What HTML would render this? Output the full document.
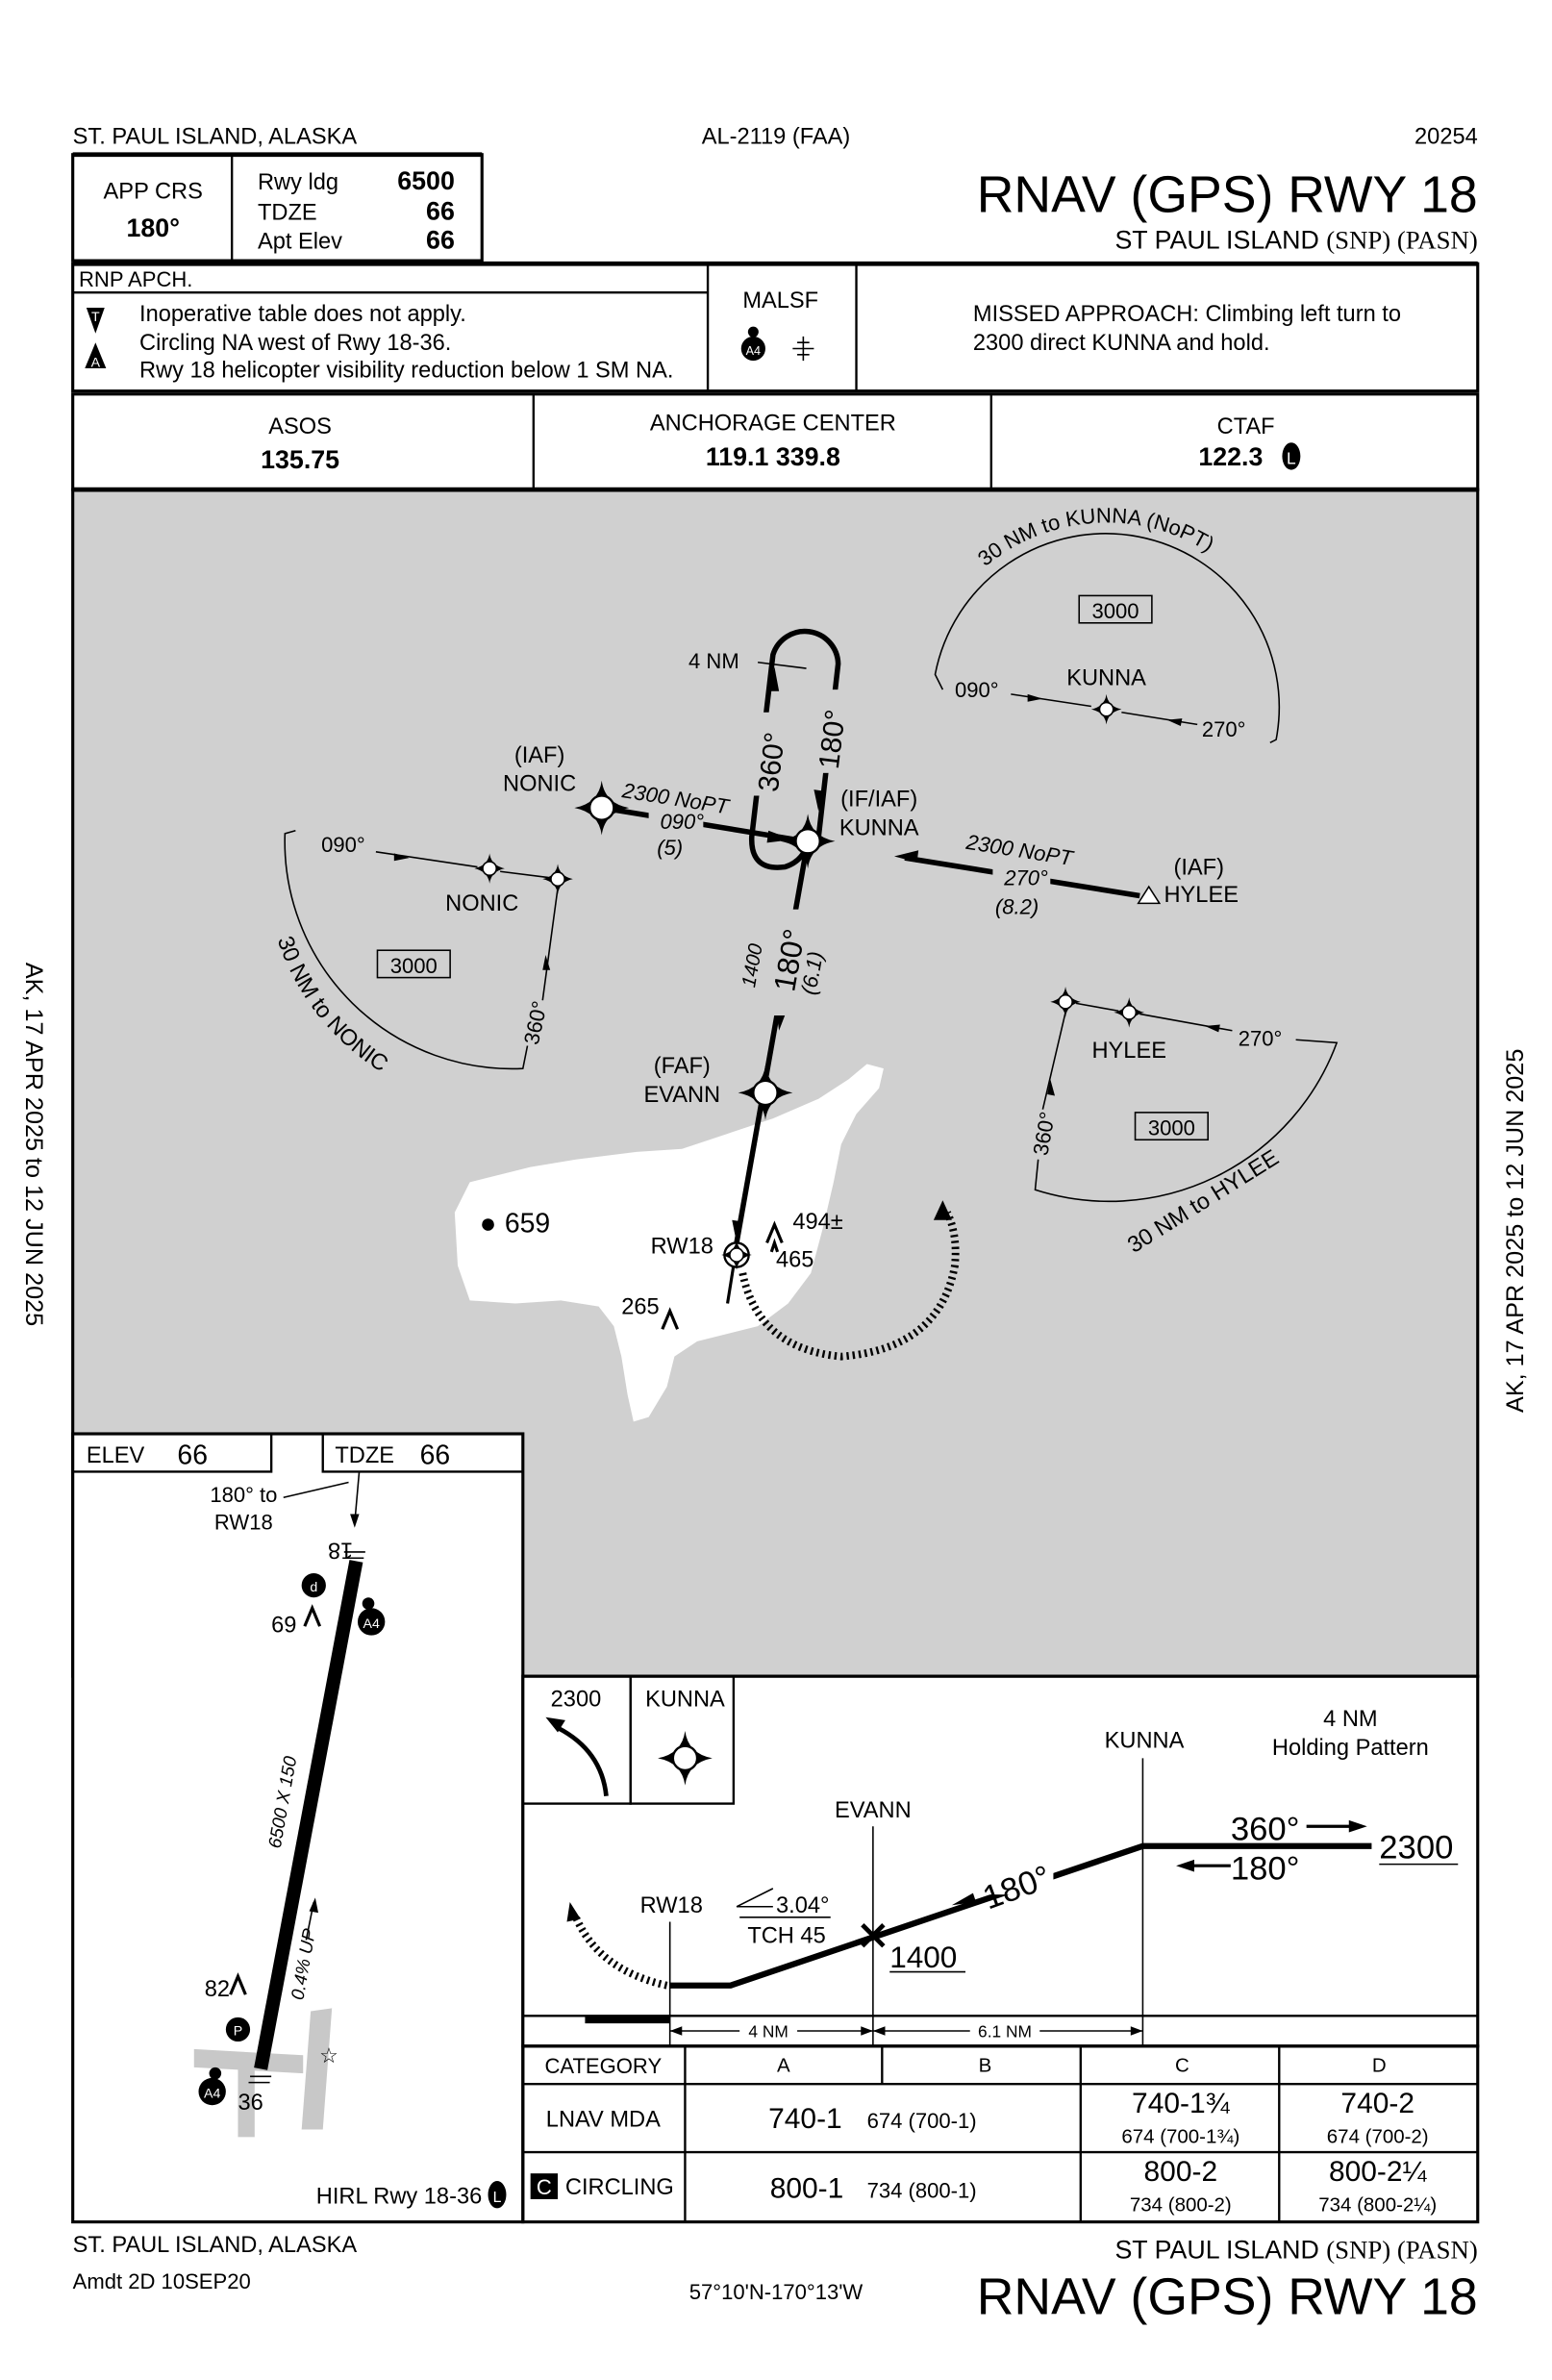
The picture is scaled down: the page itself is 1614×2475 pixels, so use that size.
<!DOCTYPE html>
<html><head><meta charset="utf-8"><style>
html,body{margin:0;padding:0;background:#fff}
svg{display:block}
text{font-family:"Liberation Sans",sans-serif;fill:#000}
</style></head><body>
<svg width="1614" height="2475" viewBox="0 0 1024 1570.3" xmlns="http://www.w3.org/2000/svg">
<defs>
<g id="fix">
<path d="M0,-18 Q2,-3 18,0 Q2,3 0,18 Q-2,3 -18,0 Q-2,-3 0,-18Z" fill="#000"/>
<circle r="8" fill="#fff" stroke="#000" stroke-width="1.5"/>
</g>
<g id="sfix">
<path d="M0,-10 Q1,-2 10,0 Q1,2 0,10 Q-1,2 -10,0 Q-1,-2 0,-10Z" fill="#000"/>
<circle r="4.5" fill="#fff" stroke="#000" stroke-width="1"/>
</g>
<path id="arcK" d="M 650 374 A 125 125 0 0 1 840 410"/>
<path id="arcN" d="M 183 620 A 165 165 0 0 0 300 728"/>
</defs>

<!-- header -->
<text x="48" y="95" font-size="15">ST. PAUL ISLAND, ALASKA</text>
<text x="512" y="95" font-size="15" text-anchor="middle">AL-2119 (FAA)</text>
<text x="975" y="95" font-size="15" text-anchor="end">20254</text>
<rect x="48" y="102" width="270" height="70" fill="none" stroke="#000" stroke-width="2"/>
<line x1="48" y1="102" x2="318" y2="102" stroke="#000" stroke-width="3"/>
<line x1="153" y1="102" x2="153" y2="172" stroke="#000" stroke-width="1.5"/>
<text x="101" y="131" font-size="15" text-anchor="middle">APP CRS</text>
<text x="101" y="156" font-size="17" font-weight="bold" text-anchor="middle">180°</text>
<text x="170" y="125" font-size="15">Rwy ldg</text>
<text x="170" y="145" font-size="15">TDZE</text>
<text x="170" y="164" font-size="15">Apt Elev</text>
<text x="300" y="125" font-size="17" font-weight="bold" text-anchor="end">6500</text>
<text x="300" y="145" font-size="17" font-weight="bold" text-anchor="end">66</text>
<text x="300" y="164" font-size="17" font-weight="bold" text-anchor="end">66</text>
<text x="975" y="140" font-size="34" text-anchor="end">RNAV (GPS) RWY 18</text>
<text x="975" y="164" font-size="17" text-anchor="end">ST PAUL ISLAND <tspan font-family="Liberation Serif">(SNP) (PASN)</tspan></text>

<!-- notes -->
<rect x="48" y="174" width="927" height="84" fill="none" stroke="#000" stroke-width="2"/>
<line x1="48" y1="174" x2="975" y2="174" stroke="#000" stroke-width="3"/>
<line x1="48" y1="193" x2="467" y2="193" stroke="#000" stroke-width="1.5"/>
<line x1="467" y1="174" x2="467" y2="258" stroke="#000" stroke-width="1.5"/>
<line x1="565" y1="174" x2="565" y2="258" stroke="#000" stroke-width="1.5"/>
<text x="52" y="189" font-size="14">RNP APCH.</text>
<path d="M57,203 h12 l-6,17z" fill="#000"/><text x="63" y="212" font-size="9" text-anchor="middle" style="fill:#fff">T</text>
<path d="M63,226 l7,17 h-14z" fill="#000"/><text x="63" y="242" font-size="9" text-anchor="middle" style="fill:#fff">A</text>
<text x="92" y="212" font-size="15">Inoperative table does not apply.</text>
<text x="92" y="231" font-size="15">Circling NA west of Rwy 18-36.</text>
<text x="92" y="249" font-size="15">Rwy 18 helicopter visibility reduction below 1 SM NA.</text>
<text x="515" y="203" font-size="15" text-anchor="middle">MALSF</text>
<circle cx="497" cy="230" r="8" fill="#000"/><circle cx="497" cy="219" r="3.5" fill="#000"/>
<text x="497" y="234" font-size="8" text-anchor="middle" style="fill:#fff">A4</text>
<path d="M530,222 v16 M523,230 h14 M526,226 h8 M526,234 h8" stroke="#000" stroke-width="1"/>
<text x="642" y="212" font-size="15">MISSED APPROACH: Climbing left turn to</text>
<text x="642" y="231" font-size="15">2300 direct KUNNA and hold.</text>

<!-- freq -->
<rect x="48" y="260" width="927" height="63" fill="none" stroke="#000" stroke-width="2"/>
<line x1="352" y1="260" x2="352" y2="323" stroke="#000" stroke-width="1.5"/>
<line x1="654" y1="260" x2="654" y2="323" stroke="#000" stroke-width="1.5"/>
<text x="198" y="286" font-size="15" text-anchor="middle">ASOS</text>
<text x="198" y="309" font-size="17" font-weight="bold" text-anchor="middle">135.75</text>
<text x="510" y="284" font-size="15" text-anchor="middle">ANCHORAGE CENTER</text>
<text x="510" y="307" font-size="17" font-weight="bold" text-anchor="middle">119.1  339.8</text>
<text x="822" y="286" font-size="15" text-anchor="middle">CTAF</text>
<text x="812" y="307" font-size="17" font-weight="bold" text-anchor="middle">122.3</text>
<ellipse cx="852" cy="301" rx="6" ry="9" fill="#000"/><text x="852" y="306" font-size="11" text-anchor="middle" style="fill:#fff">L</text>

<!-- plan view -->
<rect x="48" y="323" width="927" height="783" fill="#d0d0d0" stroke="#000" stroke-width="2"/>
<line x1="48" y1="323" x2="975" y2="323" stroke="#000" stroke-width="3"/>
<!-- island -->
<path d="M300,800 L310,780 L350,770 L380,765 L420,760 L450,758 L480,748 L510,738 L540,725 L560,712 L572,702 L583,705 L580,718 L565,735 L555,755 L550,780 L543,810 L535,840 L520,860 L500,875 L480,880 L460,885 L445,895 L440,915 L428,935 L418,938 L414,920 L410,895 L405,875 L395,862 L370,858 L340,860 L310,858 L302,835 Z" fill="#fff"/>
<!-- KUNNA MSA -->
<path d="M622,455 L617,445 A 112 112 0 0 1 842 488 L838,490" fill="none" stroke="#000" stroke-width="1"/>
<text font-size="14"><textPath href="#arcK">30 NM to KUNNA (NoPT)</textPath></text>
<rect x="712" y="393" width="48" height="18" fill="none" stroke="#000"/><text x="736" y="408" font-size="14" text-anchor="middle">3000</text>
<text x="730" y="452" font-size="15" text-anchor="middle">KUNNA</text>
<text x="630" y="460" font-size="14">090°</text>
<line x1="667" y1="458" x2="720" y2="466" stroke="#000"/><path d="M688,461 l-10,-3 l0,5z" fill="#000"/>
<line x1="740" y1="470" x2="790" y2="478" stroke="#000"/><path d="M770,475 l10,-1 l-1,5z" fill="#000"/>
<text x="793" y="486" font-size="14">270°</text>
<use href="#sfix" x="730" y="468"/>
<!-- NONIC MSA -->
<path d="M195,548 L188,550 A 150 150 0 0 0 345 705 L348,690" fill="none" stroke="#000" stroke-width="1"/>
<text font-size="15"><textPath href="#arcN">30 NM to NONIC</textPath></text>
<text x="212" y="562" font-size="14">090°</text>
<line x1="248" y1="562" x2="315" y2="572" stroke="#000"/><path d="M270,566 l-10,-3 l0,5z" fill="#000"/>
<line x1="330" y1="575" x2="362" y2="579" stroke="#000"/>
<use href="#sfix" x="323" y="573"/><use href="#sfix" x="368" y="580"/>
<line x1="368" y1="586" x2="358" y2="660" stroke="#000"/><path d="M360,630 l-2,10 l5,0z" fill="#000"/>
<text transform="translate(355,690) rotate(-78)" font-size="14">360°</text>
<text x="318" y="601" font-size="15" text-anchor="middle">NONIC</text>
<rect x="249" y="627" width="48" height="18" fill="none" stroke="#000"/><text x="273" y="642" font-size="14" text-anchor="middle">3000</text>
<!-- HYLEE MSA -->
<use href="#sfix" x="703" y="661"/><use href="#sfix" x="745" y="668"/>
<line x1="710" y1="662" x2="738" y2="667" stroke="#000"/>
<line x1="752" y1="669" x2="813" y2="680" stroke="#000"/><path d="M795,677 l10,-1 l-1,5z" fill="#000"/>
<text x="817" y="690" font-size="14">270°</text>
<path d="M855,686 L882,688 A 160 160 0 0 1 683 785 L685,765" fill="none" stroke="#000" stroke-width="1"/>
<line x1="703" y1="668" x2="688" y2="732" stroke="#000"/><path d="M693,712 l-2,10 l5,1z" fill="#000"/>
<text transform="translate(691,763) rotate(-80)" font-size="14">360°</text>
<text x="745" y="698" font-size="15" text-anchor="middle">HYLEE</text>
<rect x="749" y="734" width="48" height="18" fill="none" stroke="#000"/><text x="773" y="749" font-size="14" text-anchor="middle">3000</text>
<text transform="translate(748,827) rotate(-32)" font-size="15">30 NM to HYLEE</text>
<!-- holding -->
<path d="M540,553 L553,438 A 22 22 0 0 0 510 432 L496,552 Q495,575 518,572 Q530,568 533,556" fill="none" stroke="#000" stroke-width="3.5"/>
<path d="M511,440 l-4,16 l7,0z" fill="#000"/><path d="M540,535 l-3,-14 l7,1z" fill="#000"/>
<line x1="500" y1="437" x2="532" y2="441" stroke="#000"/>
<text x="471" y="441" font-size="14" text-anchor="middle">4 NM</text>
<rect x="495" y="470" width="22" height="55" fill="#d0d0d0"/><rect x="537" y="455" width="22" height="55" fill="#d0d0d0"/>
<text transform="translate(513,523) rotate(-83)" font-size="19">360°</text>
<text transform="translate(553,508) rotate(-83)" font-size="19">180°</text>
<!-- NONIC to KUNNA -->
<line x1="397" y1="533" x2="525" y2="554" stroke="#000" stroke-width="3.5"/><path d="M523,554 l-16,-6 l-1,8z" fill="#000"/>
<rect x="428" y="533" width="36" height="14" fill="#d0d0d0"/>
<use href="#fix" x="397" y="533"/>
<text transform="translate(410,526) rotate(9)" font-size="14" font-style="italic">2300 NoPT</text>
<text x="450" y="547" font-size="14" font-style="italic" text-anchor="middle">090°</text>
<text x="442" y="564" font-size="14" font-style="italic" text-anchor="middle">(5)</text>
<text x="356" y="503" font-size="15" text-anchor="middle">(IAF)</text>
<text x="356" y="522" font-size="15" text-anchor="middle">NONIC</text>
<!-- HYLEE to KUNNA -->
<line x1="597" y1="566" x2="752" y2="591" stroke="#000" stroke-width="3.5"/><path d="M590,565 l16,-4 l-1,8z" fill="#000"/>
<rect x="655" y="570" width="38" height="16" fill="#d0d0d0"/>
<path d="M751,596 l7,-11 l7,11z" fill="#fff" stroke="#000"/>
<text transform="translate(637,560) rotate(9)" font-size="14" font-style="italic">2300 NoPT</text>
<text x="677" y="584" font-size="14" font-style="italic" text-anchor="middle">270°</text>
<text x="671" y="603" font-size="14" font-style="italic" text-anchor="middle">(8.2)</text>
<text x="791" y="577" font-size="15" text-anchor="middle">(IAF)</text>
<text x="768" y="595" font-size="15">HYLEE</text>
<!-- final -->
<line x1="533" y1="555" x2="486" y2="820" stroke="#000" stroke-width="3.5"/>
<path d="M486,820 l-3,-15 l7,1z" fill="#000"/><path d="M514,680 l-2,-14 l7,1z" fill="#000"/>
<rect x="508" y="600" width="30" height="70" fill="#d0d0d0"/>
<text transform="translate(498,652) rotate(-80)" font-size="13" font-style="italic">1400</text>
<text transform="translate(524,655) rotate(-80)" font-size="20">180°</text>
<text transform="translate(538,657) rotate(-80)" font-size="14" font-style="italic">(6.1)</text>
<use href="#fix" x="533" y="555"/>
<text x="580" y="532" font-size="15" text-anchor="middle">(IF/IAF)</text>
<text x="580" y="551" font-size="15" text-anchor="middle">KUNNA</text>
<use href="#fix" x="505" y="721"/>
<text x="450" y="708" font-size="15" text-anchor="middle">(FAF)</text>
<text x="450" y="727" font-size="15" text-anchor="middle">EVANN</text>
<circle cx="486" cy="828" r="8" fill="#fff" stroke="#000" stroke-width="1.5"/><use href="#sfix" x="486" y="828"/>
<line x1="484" y1="835" x2="480" y2="860" stroke="#000" stroke-width="2"/>
<text x="450" y="827" font-size="15" text-anchor="middle">RW18</text>
<!-- missed dotted -->
<path d="M490,840 Q500,890 555,895 Q620,890 630,835 Q632,815 625,800" fill="none" stroke="#000" stroke-width="5" stroke-dasharray="1.5 2.5"/>
<path d="M622,792 l-6,13 l12,0z" fill="#000"/>
<path d="M506,820 l5,-12 l5,12 M509,826 l2,-6 l2,6" fill="none" stroke="#000" stroke-width="2"/>
<text x="523" y="811" font-size="15">494±</text>
<text x="512" y="836" font-size="15">465</text>
<text x="410" y="867" font-size="15">265</text>
<path d="M437,877 l5,-12 l5,12" fill="none" stroke="#000" stroke-width="2"/>
<circle cx="322" cy="808" r="4" fill="#000"/><text x="333" y="813" font-size="18">659</text>

<!-- airport sketch -->
<rect x="48" y="946" width="297" height="520" fill="#fff" stroke="#000" stroke-width="2"/>
<rect x="48" y="946" width="131" height="25" fill="none" stroke="#000" stroke-width="1.5"/>
<rect x="213" y="946" width="132" height="25" fill="none" stroke="#000" stroke-width="1.5"/>
<text x="57" y="965" font-size="15">ELEV</text><text x="117" y="966" font-size="18">66</text>
<text x="221" y="965" font-size="15">TDZE</text><text x="277" y="966" font-size="18">66</text>
<text x="183" y="991" font-size="14" text-anchor="end">180° to</text>
<text x="180" y="1009" font-size="14" text-anchor="end">RW18</text>
<line x1="187" y1="988" x2="230" y2="978" stroke="#000"/>
<line x1="237" y1="971" x2="234" y2="1005" stroke="#000"/><path d="M234,1008 l-3,-9 l6,0z" fill="#000"/>
<path d="M205,1327 l14,-2 l-6,80 l-14,0z M128,1352 l72,4 l0,12 l-72,-4z" fill="#c8c8c8"/>
<rect x="157" y="1365" width="11" height="45" fill="#c8c8c8"/>
<line x1="235" y1="1030" x2="172" y2="1365" stroke="#000" stroke-width="9"/>
<text transform="translate(233,1018) rotate(180)" font-size="15">18</text>
<path d="M226,1028 h14 M227,1024 h14 M165,1370 h14 M164,1374 h14" stroke="#000"/>
<circle cx="207" cy="1046" r="8" fill="#000"/><text x="207" y="1050" font-size="9" text-anchor="middle" style="fill:#fff">d</text>
<text x="179" y="1077" font-size="15">69</text><path d="M201,1073 l5,-12 l5,12" fill="none" stroke="#000" stroke-width="2"/>
<circle cx="245" cy="1070" r="9" fill="#000"/><circle cx="243" cy="1058" r="4" fill="#000"/>
<text x="245" y="1074" font-size="9" text-anchor="middle" style="fill:#fff">A4</text>
<text transform="translate(185,1220) rotate(-80)" font-size="12" font-style="italic">6500 X 150</text>
<text transform="translate(200,1320) rotate(-80)" font-size="12" font-style="italic">0.4% UP</text>
<line x1="202" y1="1280" x2="207" y2="1255" stroke="#000"/><path d="M208,1252 l-4,9 l6,1z" fill="#000"/>
<text x="135" y="1317" font-size="15">82</text><path d="M152,1316 l5,-12 l5,12" fill="none" stroke="#000" stroke-width="2"/>
<circle cx="157" cy="1339" r="8" fill="#000"/><text x="157" y="1343" font-size="9" text-anchor="middle" style="fill:#fff">P</text>
<text x="217" y="1361" font-size="14" text-anchor="middle">☆</text>
<circle cx="140" cy="1380" r="9" fill="#000"/><circle cx="142" cy="1368" r="4" fill="#000"/>
<text x="140" y="1384" font-size="9" text-anchor="middle" style="fill:#fff">A4</text>
<text x="157" y="1392" font-size="15">36</text>
<text x="318" y="1454" font-size="15" text-anchor="end">HIRL Rwy 18-36</text>
<ellipse cx="328" cy="1448" rx="6" ry="9" fill="#000"/><text x="328" y="1453" font-size="10" text-anchor="middle" style="fill:#fff">L</text>

<!-- profile -->
<rect x="345" y="1106" width="630" height="244" fill="#fff" stroke="#000" stroke-width="2"/>
<rect x="345" y="1106" width="71" height="84" fill="none" stroke="#000" stroke-width="1.5"/>
<rect x="416" y="1106" width="68" height="84" fill="none" stroke="#000" stroke-width="1.5"/>
<text x="380" y="1126" font-size="15" text-anchor="middle">2300</text>
<text x="452" y="1126" font-size="15" text-anchor="middle">KUNNA</text>
<path d="M400,1185 Q397,1155 368,1140" fill="none" stroke="#000" stroke-width="3"/><path d="M360,1133 l13,2 l-5,8z" fill="#000"/>
<use href="#fix" x="452" y="1160"/>
<line x1="442" y1="1268" x2="442" y2="1350" stroke="#000"/>
<line x1="576" y1="1205" x2="576" y2="1350" stroke="#000"/>
<line x1="754" y1="1160" x2="754" y2="1350" stroke="#000"/>
<text x="443" y="1262" font-size="15" text-anchor="middle">RW18</text>
<text x="576" y="1199" font-size="15" text-anchor="middle">EVANN</text>
<text x="755" y="1153" font-size="15" text-anchor="middle">KUNNA</text>
<text x="891" y="1139" font-size="15" text-anchor="middle">4 NM</text>
<text x="891" y="1158" font-size="15" text-anchor="middle">Holding Pattern</text>
<path d="M442,1310 L482,1310 L754,1218 L905,1218" fill="none" stroke="#000" stroke-width="4"/>
<rect x="645" y="1225" width="50" height="25" fill="#fff"/>
<text transform="translate(652,1260) rotate(-20)" font-size="22">180°</text>
<path d="M628,1257 l14,-8 l2,6z" fill="#000"/>
<path d="M569,1270 l14,14 M583,1270 l-14,14" stroke="#000" stroke-width="3"/>
<text x="587" y="1298" font-size="20">1400</text>
<line x1="587" y1="1301" x2="637" y2="1301" stroke="#000"/>
<path d="M486,1258 L510,1246 M486,1258 H510" stroke="#000"/>
<text x="512" y="1262" font-size="15">3.04°</text>
<line x1="488" y1="1265" x2="548" y2="1265" stroke="#000"/>
<text x="519" y="1282" font-size="15" text-anchor="middle">TCH 45</text>
<text x="812" y="1214" font-size="22">360°</text>
<line x1="862" y1="1205" x2="895" y2="1205" stroke="#000" stroke-width="2"/><path d="M902,1205 l-12,-4 l0,8z" fill="#000"/>
<text x="812" y="1240" font-size="22">180°</text>
<line x1="783" y1="1231" x2="812" y2="1231" stroke="#000" stroke-width="2"/><path d="M776,1231 l12,-4 l0,8z" fill="#000"/>
<text x="910" y="1226" font-size="22">2300</text>
<line x1="910" y1="1230" x2="962" y2="1230" stroke="#000"/>
<path d="M440,1310 Q395,1300 380,1265" fill="none" stroke="#000" stroke-width="5" stroke-dasharray="1.5 2.5"/>
<path d="M376,1255 l-2,13 l9,-2z" fill="#000"/>
<line x1="345" y1="1330" x2="975" y2="1330" stroke="#000" stroke-width="1.5"/>
<rect x="386" y="1330" width="56" height="5" fill="#000"/>
<line x1="442" y1="1340" x2="576" y2="1340" stroke="#000"/><line x1="576" y1="1340" x2="754" y2="1340" stroke="#000"/>
<rect x="488" y="1334" width="38" height="12" fill="#fff"/><text x="507" y="1344" font-size="11" text-anchor="middle">4 NM</text>
<rect x="640" y="1334" width="46" height="12" fill="#fff"/><text x="663" y="1344" font-size="11" text-anchor="middle">6.1 NM</text>
<path d="M442,1340 l8,-3 v6z M576,1340 l-8,-3 v6z M576,1340 l8,-3 v6z M754,1340 l-8,-3 v6z" fill="#000"/>

<!-- minima -->
<rect x="345" y="1350" width="630" height="116" fill="none" stroke="#000" stroke-width="2"/>
<line x1="345" y1="1375" x2="975" y2="1375" stroke="#000" stroke-width="1.5"/>
<line x1="345" y1="1420" x2="975" y2="1420" stroke="#000" stroke-width="1.5"/>
<line x1="452" y1="1350" x2="452" y2="1466" stroke="#000" stroke-width="1.5"/>
<line x1="582" y1="1350" x2="582" y2="1375" stroke="#000" stroke-width="1.5"/>
<line x1="713" y1="1350" x2="713" y2="1466" stroke="#000" stroke-width="1.5"/>
<line x1="844" y1="1350" x2="844" y2="1466" stroke="#000" stroke-width="1.5"/>
<text x="398" y="1368" font-size="14" text-anchor="middle">CATEGORY</text>
<text x="517" y="1367" font-size="13" text-anchor="middle">A</text>
<text x="650" y="1367" font-size="13" text-anchor="middle">B</text>
<text x="780" y="1367" font-size="13" text-anchor="middle">C</text>
<text x="910" y="1367" font-size="13" text-anchor="middle">D</text>
<text x="398" y="1403" font-size="15" text-anchor="middle">LNAV MDA</text>
<text x="507" y="1404" font-size="19">740-1</text><text x="572" y="1404" font-size="14">674 (700-1)</text>
<text x="779" y="1394" font-size="19" text-anchor="middle">740-1¾</text>
<text x="779" y="1414" font-size="13" text-anchor="middle">674 (700-1¾)</text>
<text x="909" y="1394" font-size="19" text-anchor="middle">740-2</text>
<text x="909" y="1414" font-size="13" text-anchor="middle">674 (700-2)</text>
<rect x="350" y="1434" width="18" height="17" fill="#000"/><text x="359" y="1448" font-size="14" text-anchor="middle" style="fill:#fff">C</text>
<text x="373" y="1448" font-size="15">CIRCLING</text>
<text x="508" y="1450" font-size="19">800-1</text><text x="572" y="1450" font-size="14">734 (800-1)</text>
<text x="779" y="1439" font-size="19" text-anchor="middle">800-2</text>
<text x="779" y="1459" font-size="13" text-anchor="middle">734 (800-2)</text>
<text x="909" y="1439" font-size="19" text-anchor="middle">800-2¼</text>
<text x="909" y="1459" font-size="13" text-anchor="middle">734 (800-2¼)</text>

<!-- footer -->
<text x="48" y="1486" font-size="15">ST. PAUL ISLAND, ALASKA</text>
<text x="48" y="1510" font-size="14">Amdt 2D  10SEP20</text>
<text x="512" y="1517" font-size="14" text-anchor="middle">57°10'N-170°13'W</text>
<text x="975" y="1490" font-size="17" text-anchor="end">ST PAUL ISLAND <tspan font-family="Liberation Serif">(SNP) (PASN)</tspan></text>
<text x="975" y="1527" font-size="34" text-anchor="end">RNAV (GPS) RWY 18</text>

<!-- side texts -->
<text transform="translate(17,635) rotate(90)" font-size="16">AK, 17 APR 2025 to 12 JUN 2025</text>
<text transform="translate(1005,932) rotate(-90)" font-size="16">AK, 17 APR 2025 to 12 JUN 2025</text>
</svg>
</body></html>
